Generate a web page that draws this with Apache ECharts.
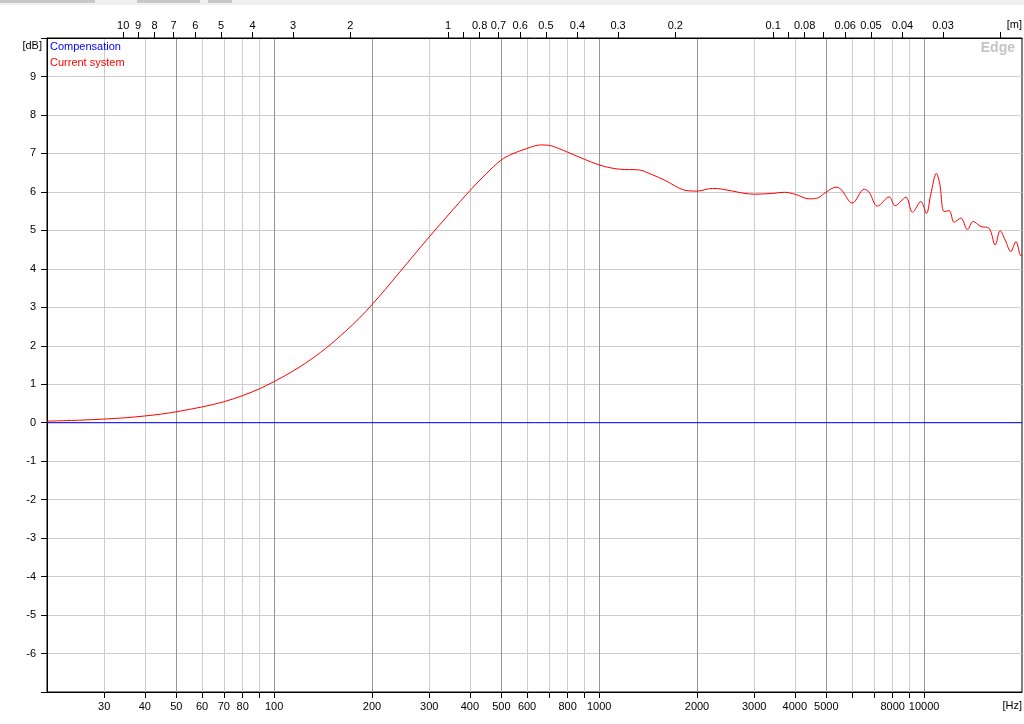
<!DOCTYPE html>
<html><head><meta charset="utf-8">
<script src="https://cdn.jsdelivr.net/npm/echarts@6/dist/echarts.min.js"></script>
<style>html,body{margin:0;padding:0;background:#fff}#c{width:1024px;height:724px}</style>
</head><body><div id="c"></div>
<script>
// ---- data ----
const freqHz = [20,25,30,35,40,45,50,60,70,80,90,100,112,125,144,166,183,200,220,242,270,300,350,400,450,500,535,600,661,700,750,800,900,1000,1152,1328,1425,1604,1805,2000,2232,2396,2761,3000,3414,3709,4000,4430,4700,4985,5350,5540,6015,6540,6770,7185,7805,8140,8785,9205,9770,10160,10480,10910,11170,11520,11940,12370,12970,13590,14150,14950,15850,16540,17130,17750,18480,19160,19850,20000];
const currentSystemDb = [0.04,0.065,0.095,0.13,0.175,0.225,0.285,0.41,0.545,0.705,0.88,1.07,1.30,1.55,1.93,2.38,2.72,3.07,3.47,3.89,4.37,4.83,5.48,6.03,6.48,6.83,6.97,7.13,7.22,7.21,7.13,7.03,6.85,6.70,6.59,6.57,6.48,6.29,6.06,6.02,6.09,6.07,5.97,5.94,5.96,5.99,5.94,5.82,5.84,5.99,6.12,6.07,5.71,6.07,5.99,5.63,5.87,5.64,5.86,5.47,5.75,5.44,5.94,6.48,6.20,5.49,5.51,5.21,5.32,5.02,5.23,5.10,5.05,4.62,4.99,4.75,4.45,4.71,4.34,4.36];
const compensationHz = [20, 20000];
const compensationDb = [0, 0];

const freqTicks = [30,40,50,60,70,80,90,100,200,300,400,500,600,700,800,900,1000,2000,3000,4000,5000,6000,7000,8000,9000,10000];
const freqLabels = [30,40,50,60,70,80,100,200,300,400,500,600,800,1000,2000,3000,4000,5000,8000,10000];
const majorGridHz = [50,100,200,500,1000,2000,5000,10000];
const wavelengthTicks = [10,9,8,7,6,5,4,3,2,1,0.9,0.8,0.7,0.6,0.5,0.4,0.3,0.2,0.1,0.09,0.08,0.07,0.06,0.05,0.04,0.03,0.02];
const wavelengthLabels = [10,9,8,7,6,5,4,3,2,1,0.8,0.7,0.6,0.5,0.4,0.3,0.2,0.1,0.08,0.06,0.05,0.04,0.03];
const dbLabels = [-6,-5,-4,-3,-2,-1,0,1,2,3,4,5,6,7,8,9];
const SOUND_SPEED = 343;
const F_MIN = 20, F_MAX = 20000;

// ---- chart ----
const FONT = '"Liberation Sans", Arial, sans-serif';
const zip = (xs, ys) => xs.map((x, i) => [x, ys[i]]);
const fmtNum = v => String(Number(Number(v).toPrecision(6)));

const chart = echarts.init(document.getElementById('c'), null, {renderer: 'canvas'});
chart.setOption({
  animation: false,
  backgroundColor: '#ffffff',
  textStyle: {fontFamily: FONT},
  grid: {left: 47, right: 2, top: 38, bottom: 32, show: true, borderColor: '#000', borderWidth: 1, backgroundColor: 'transparent'},
  legend: {
    orient: 'vertical', left: 45, top: 40, padding: 0, itemGap: 2,
    itemWidth: 0, itemHeight: 0, icon: 'rect', selectedMode: false,
    textStyle: {fontSize: 11, lineHeight: 14, fontFamily: FONT},
    data: [
      {name: 'Compensation', textStyle: {color: '#0000ff'}},
      {name: 'Current system', textStyle: {color: '#ff0000'}}
    ]
  },
  xAxis: [
    {
      type: 'log', position: 'bottom', min: F_MIN, max: F_MAX,
      axisLine: {show: true, onZero: false, lineStyle: {color: '#000'}},
      axisTick: {show: true, inside: false, length: 6, customValues: freqTicks, lineStyle: {color: '#000'}},
      axisLabel: {show: true, customValues: freqLabels, margin: 9, color: '#000', fontSize: 11, fontFamily: FONT, formatter: v => fmtNum(v)},
      splitLine: {show: true, lineStyle: {color: '#cdcdcd', width: 1}},
      minorTick: {show: false}, minorSplitLine: {show: false}
    },
    {
      type: 'log', position: 'top', inverse: true,
      min: SOUND_SPEED / F_MAX, max: SOUND_SPEED / F_MIN,
      axisLine: {show: true, onZero: false, lineStyle: {color: '#000'}},
      axisTick: {show: true, inside: false, length: 6, customValues: wavelengthTicks, lineStyle: {color: '#000'}},
      axisLabel: {show: true, customValues: wavelengthLabels, margin: 7, color: '#000', fontSize: 11, fontFamily: FONT, formatter: v => fmtNum(v)},
      splitLine: {show: false}
    },
    {
      type: 'log', position: 'bottom', min: F_MIN, max: F_MAX,
      axisLine: {show: false, onZero: false}, axisLabel: {show: false},
      axisTick: {show: false, customValues: majorGridHz},
      splitLine: {show: true, lineStyle: {color: '#959595', width: 1}}
    }
  ],
  yAxis: {
    type: 'value', min: -7, max: 10, interval: 1,
    axisLine: {show: true, onZero: false, lineStyle: {color: '#000'}},
    axisTick: {show: true, length: 6, lineStyle: {color: '#000'}},
    axisLabel: {color: '#000', fontSize: 11, fontFamily: FONT, margin: 11,
      formatter: v => dbLabels.indexOf(v) >= 0 ? String(v) : ''},
    splitLine: {show: true, lineStyle: {color: '#cdcdcd', width: 1}}
  },
  graphic: [
    {type: 'rect', left: 0, top: 0, shape: {width: 1024, height: 5}, style: {fill: '#f0f0f0'}, silent: true},
    {type: 'rect', left: 0, top: 0, shape: {width: 95, height: 3}, style: {fill: '#c8c8c8'}, silent: true},
    {type: 'rect', left: 137, top: 0, shape: {width: 63, height: 3}, style: {fill: '#c8c8c8'}, silent: true},
    {type: 'rect', left: 208, top: 0, shape: {width: 24, height: 3}, style: {fill: '#c8c8c8'}, silent: true},
    {type: 'text', x: 42, y: 46, style: {text: '[dB]', fill: '#000', font: '11px ' + FONT, textAlign: 'right', textVerticalAlign: 'middle'}, silent: true},
    {type: 'text', x: 1022, y: 706, style: {text: '[Hz]', fill: '#000', font: '11px ' + FONT, textAlign: 'right', textVerticalAlign: 'middle'}, silent: true},
    {type: 'text', x: 1022, y: 25, style: {text: '[m]', fill: '#000', font: '11px ' + FONT, textAlign: 'right', textVerticalAlign: 'middle'}, silent: true},
    {type: 'text', x: 1015, y: 48, style: {text: 'Edge', fill: '#c4c4c4', font: 'bold 14px ' + FONT, textAlign: 'right', textVerticalAlign: 'middle'}, silent: true}
  ],
  series: [
    {
      name: 'Compensation', type: 'line', xAxisIndex: 0, showSymbol: false, symbol: 'none',
      data: zip(compensationHz, compensationDb),
      lineStyle: {color: '#0000ff', width: 1}, itemStyle: {color: '#0000ff'}, z: 3
    },
    {
      name: 'Current system', type: 'line', xAxisIndex: 0, showSymbol: false, symbol: 'none', smooth: 0.35,
      data: zip(freqHz, currentSystemDb),
      lineStyle: {color: '#ff0000', width: 1}, itemStyle: {color: '#ff0000'}, z: 4
    }
  ]
});
</script>
</body></html>
